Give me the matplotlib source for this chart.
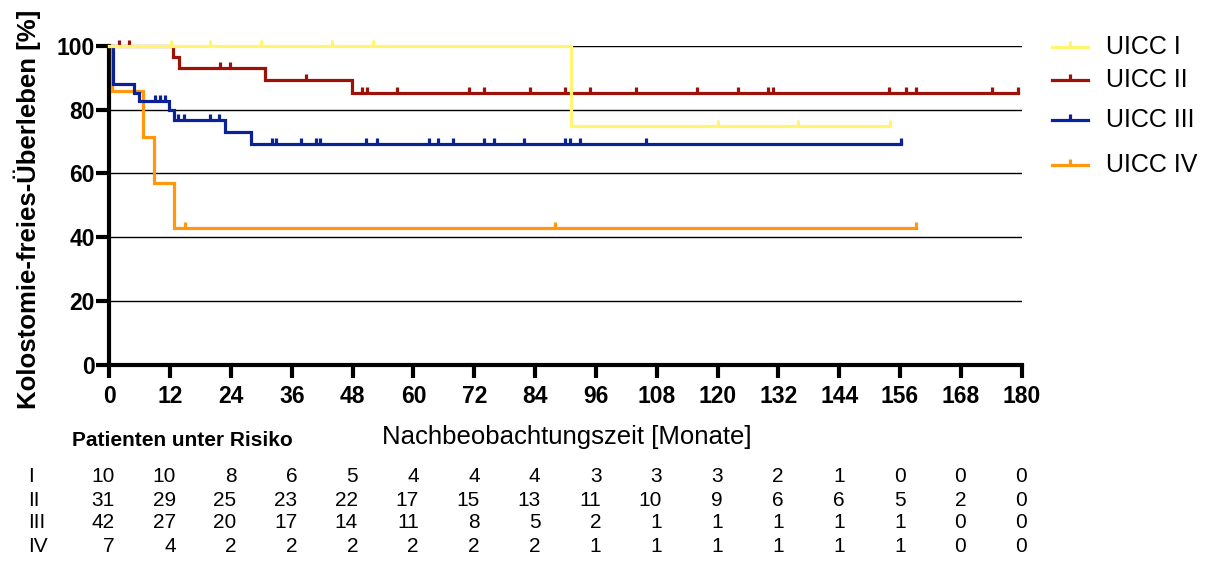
import numpy as np
import matplotlib
matplotlib.use("Agg")
import matplotlib.pyplot as plt
from matplotlib.lines import Line2D
from matplotlib.markers import TICKUP
from matplotlib.transforms import blended_transform_factory, ScaledTranslation

plt.rcParams['font.family'] = ['Liberation Sans', 'DejaVu Sans']

groups = ['UICC I', 'UICC II', 'UICC III', 'UICC IV']
row_names = ['I', 'II', 'III', 'IV']
colors = ['#FFF56E', '#9C1208', '#0B2296', '#FF980C']

# event times [months] and survival after each event [%]
event_t = [
    [91.0],
    [12.6, 13.75, 30.7, 47.9],
    [0.7, 4.8, 5.8, 11.7, 12.7, 22.8, 28.0],
    [0.5, 6.7, 8.8, 12.8],
]
event_s = [
    [75.0],
    [96.6, 93.1, 89.3, 85.2],
    [88.1, 85.3, 82.6, 79.9, 76.6, 73.1, 69.2],
    [85.7, 71.4, 57.1, 42.9],
]
# censored observations [months]
censor_t = [
    [12.1, 19.9, 29.9, 43.9, 52.0, 120.0, 135.9, 154.0],
    [1.9, 3.9, 21.8, 23.8, 38.9, 49.8, 50.9, 56.8, 71.0, 74.0, 82.9, 89.9,
     94.9, 103.9, 115.9, 124.0, 130.0, 131.0, 153.9, 157.1, 159.1, 174.2, 179.2],
    [9.0, 10.0, 11.0, 13.6, 14.8, 19.8, 21.7, 32.0, 32.9, 37.8, 40.7, 41.6,
     50.7, 52.8, 63.0, 64.9, 67.9, 73.9, 75.9, 81.8, 89.9, 90.9, 92.9, 105.9, 156.1],
    [14.9, 87.9, 159.1],
]
follow_up_end = [154.0, 179.2, 156.1, 159.1]

risk_times = list(range(0, 181, 12))
at_risk = [
    [10, 10, 8, 6, 5, 4, 4, 4, 3, 3, 3, 2, 1, 0, 0, 0],
    [31, 29, 25, 23, 22, 17, 15, 13, 11, 10, 9, 6, 6, 5, 2, 0],
    [42, 27, 20, 17, 14, 11, 8, 5, 2, 1, 1, 1, 1, 1, 0, 0],
    [7, 4, 2, 2, 2, 2, 2, 2, 1, 1, 1, 1, 1, 1, 0, 0],
]

W, H = 1207, 562
fig = plt.figure(figsize=(W / 100, H / 100), dpi=100)
ax = fig.add_axes([109.3 / W, 1 - 365.2 / H, (1021.7 - 109.3) / W, (365.2 - 45.7) / H])


def surv_at(t, et, es):
    s = 100.0
    for a, b in zip(et, es):
        if t >= a:
            s = b
    return s


order = [3, 2, 1, 0]
for k in order:
    xs = [0.0] + event_t[k] + [follow_up_end[k]]
    ys = [100.0] + event_s[k] + [event_s[k][-1]]
    ax.step(xs, ys, where='post', color=colors[k], lw=2.3, clip_on=False,
            zorder=3 + (3 - k), solid_joinstyle='miter')
    cy = [surv_at(t, event_t[k], event_s[k]) for t in censor_t[k]]
    ax.plot(censor_t[k], cy, ls='none', marker=TICKUP, ms=4.5, mew=2.3,
            color=colors[k], clip_on=False, zorder=3 + (3 - k))

ax.set_xlim(0, 180)
ax.set_ylim(0, 100)
ax.set_xticks(risk_times)
ax.set_yticks([0, 20, 40, 60, 80, 100])
for v in [20, 40, 60, 80, 100]:
    ax.axhline(v, color='black', lw=1.0, zorder=1)

for side in ['top', 'right']:
    ax.spines[side].set_visible(False)
for side in ['left', 'bottom']:
    ax.spines[side].set_linewidth(3)
    ax.spines[side].set_zorder(2)
ax.tick_params(axis='both', direction='out', length=9.5, width=3,
               labelsize=16.5)
ax.tick_params(axis='x', pad=5)
ax.tick_params(axis='y', pad=1)
for lab in ax.get_xticklabels() + ax.get_yticklabels():
    lab.set_fontweight('bold')

fig.text(27.5 / W, 1 - 209 / H, 'Kolostomie-freies-Überleben [%]', rotation=90,
         ha='center', va='center', fontsize=18.5, fontweight='bold')
fig.text(567 / W, 1 - 437 / H, 'Nachbeobachtungszeit [Monate]',
         ha='center', va='center', fontsize=18.5)
fig.text(71.7 / W, 1 - 440 / H, 'Patienten unter Risiko',
         ha='left', va='center', fontsize=15, fontweight='bold')

# legend
leg_y = [46.7, 80, 120, 165]
for k in range(4):
    yf = 1 - leg_y[k] / H
    fig.add_artist(Line2D([1051.7 / W, 1088.3 / W], [yf, yf], color=colors[k],
                          lw=2.3, transform=fig.transFigure))
    fig.add_artist(Line2D([1070 / W], [yf], ls='none', marker=TICKUP, ms=4.5,
                          mew=2.3, color=colors[k], transform=fig.transFigure))
    fig.text(1106 / W, yf, groups[k], ha='left', va='center', fontsize=18)

# number-at-risk table
row_y = [477, 500, 523, 546]
tr = blended_transform_factory(ax.transData, fig.transFigure) + \
    ScaledTranslation(5.5 / 100, 0, fig.dpi_scale_trans)
for k in range(4):
    yf = 1 - row_y[k] / H
    fig.text(28.3 / W, yf, row_names[k], ha='left', va='center', fontsize=15)
    for t, n in zip(risk_times, at_risk[k]):
        ax.text(t, yf, str(n), transform=tr, ha='right', va='center',
                fontsize=15, clip_on=False)

fig.savefig('out.png', dpi=100)
